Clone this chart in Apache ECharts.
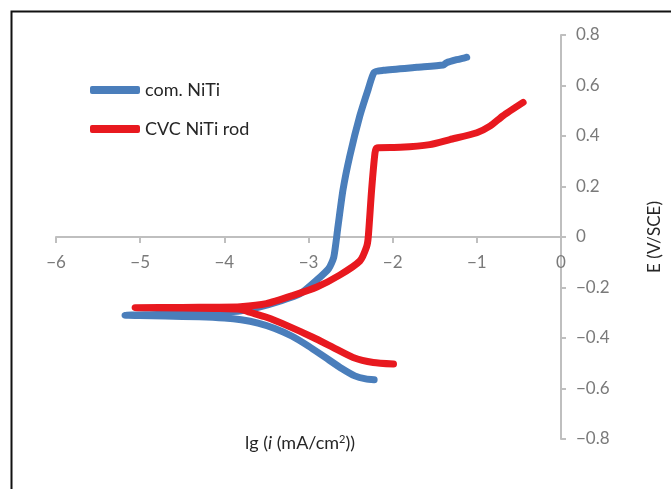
<!DOCTYPE html>
<html>
<head>
<meta charset="utf-8">
<script src="https://cdn.jsdelivr.net/npm/echarts@6/dist/echarts.min.js"></script>
<style>html,body{margin:0;padding:0;background:#fff}#c{width:671px;height:489px}</style>
</head>
<body>
<div id="c"></div>
<script>
// Series names
const seriesNames = ['com. NiTi', 'CVC NiTi rod'];
// com. NiTi: [lg i, E] from cathodic end -> Ecorr tip -> anodic end
const comNiTi = [
  [-2.22,-0.565],[-2.32,-0.562],[-2.45,-0.55],[-2.6,-0.522],[-2.8,-0.477],[-3.0,-0.432],
  [-3.2,-0.392],[-3.4,-0.362],[-3.6,-0.341],[-3.8,-0.328],[-4.0,-0.321],[-4.3,-0.316],
  [-4.7,-0.313],[-5.0,-0.311],[-5.18,-0.31],[-4.8,-0.307],[-4.4,-0.303],[-4.02,-0.298],
  [-3.8,-0.292],[-3.61,-0.28],[-3.35,-0.255],[-3.1,-0.225],[-2.9,-0.17],[-2.76,-0.125],
  [-2.70,-0.08],[-2.65,0.041],[-2.59,0.187],[-2.51,0.32],[-2.39,0.48],[-2.29,0.586],
  [-2.22,0.652],[-2.11,0.66],[-1.71,0.672],[-1.40,0.681],[-1.36,0.69],[-1.24,0.702],[-1.12,0.712]
];
// CVC NiTi rod
const cvcNiTi = [
  [-1.99,-0.503],[-2.23,-0.497],[-2.47,-0.477],[-2.71,-0.437],[-2.95,-0.397],[-3.26,-0.35],
  [-3.50,-0.318],[-3.70,-0.298],[-3.81,-0.286],[-4.1,-0.283],[-4.5,-0.281],[-5.06,-0.28],
  [-4.5,-0.279],[-4.1,-0.278],[-3.81,-0.276],[-3.50,-0.264],[-3.18,-0.231],[-2.90,-0.198],
  [-2.63,-0.151],[-2.39,-0.095],[-2.31,-0.039],[-2.29,0.0],[-2.25,0.187],[-2.21,0.333],
  [-2.19,0.353],[-1.91,0.355],[-1.56,0.366],[-1.32,0.386],[-1.00,0.413],[-0.84,0.44],
  [-0.69,0.48],[-0.45,0.533]
];
const xTicks = {min: -6, max: 0, interval: 1};
const yTicks = {min: -0.8, max: 0.8, interval: 0.2};

const minus = v => (v < 0 ? '\u2212' + Math.abs(v) : String(v));
const fontFam = 'Lato, "Open Sans", sans-serif';

const chart = echarts.init(document.getElementById('c'), null, {renderer: 'canvas'});
chart.setOption({
  animation: false,
  backgroundColor: '#fff',
  grid: {left: 56, right: 110, top: 35, bottom: 50},
  legend: {
    orient: 'vertical', left: 90, top: 81, padding: 0,
    itemWidth: 50, itemHeight: 8, itemGap: 21, icon: 'roundRect',
    textStyle: {fontSize: 18, color: '#262626', fontFamily: fontFam},
    data: seriesNames
  },
  xAxis: {
    type: 'value', min: xTicks.min, max: xTicks.max, interval: xTicks.interval,
    position: 'bottom', offset: -202,
    axisLine: {onZero: false, lineStyle: {color: '#bfbfbf', width: 2}},
    axisTick: {show: true, length: 6, lineStyle: {color: '#bfbfbf', width: 2}},
    splitLine: {show: false},
    axisLabel: {formatter: minus, color: '#7a7a7a', fontSize: 17, fontFamily: fontFam, margin: 17}
  },
  yAxis: {
    type: 'value', position: 'right', min: yTicks.min, max: yTicks.max, interval: yTicks.interval,
    axisLine: {show: true, onZero: false, lineStyle: {color: '#bfbfbf', width: 2}},
    axisTick: {show: true, length: 5, lineStyle: {color: '#bfbfbf', width: 2}},
    splitLine: {show: false},
    axisLabel: {formatter: v => minus(Math.round(v * 10) / 10), color: '#7a7a7a', fontSize: 17, fontFamily: fontFam, margin: 15},
    name: 'E (V/SCE)', nameLocation: 'middle', nameGap: 85, nameRotate: 90,
    nameTextStyle: {fontSize: 17, color: '#262626', fontFamily: fontFam}
  },
  series: [
    {name: seriesNames[0], type: 'line', data: comNiTi, showSymbol: false, symbol: 'none', smooth: 0.2,
     lineStyle: {color: '#4a7ebb', width: 7, cap: 'round', join: 'round'}, itemStyle: {color: '#4a7ebb'}, z: 2},
    {name: seriesNames[1], type: 'line', data: cvcNiTi, showSymbol: false, symbol: 'none', smooth: 0.2,
     lineStyle: {color: '#e8191f', width: 7, cap: 'round', join: 'round'}, itemStyle: {color: '#e8191f'}, z: 3}
  ],
  graphic: [
    {type: 'rect', left: 9, top: 9, shape: {width: 700, height: 520},
     style: {fill: 'none', stroke: '#111', lineWidth: 2}, silent: true},
    {type: 'text', x: 300, y: 443,
     style: {text: '{n|lg (}{i|i}{n| (mA/cm}{s|2}{n|))}', align: 'center', verticalAlign: 'middle',
       rich: {
         n: {fontSize: 18, fill: '#262626', fontFamily: fontFam},
         i: {fontSize: 18, fill: '#262626', fontFamily: fontFam, fontStyle: 'italic'},
         s: {fontSize: 11, fill: '#262626', fontFamily: fontFam, verticalAlign: 'top', padding: [0,0,8,0]}
       }}}
  ]
});
</script>
</body>
</html>
